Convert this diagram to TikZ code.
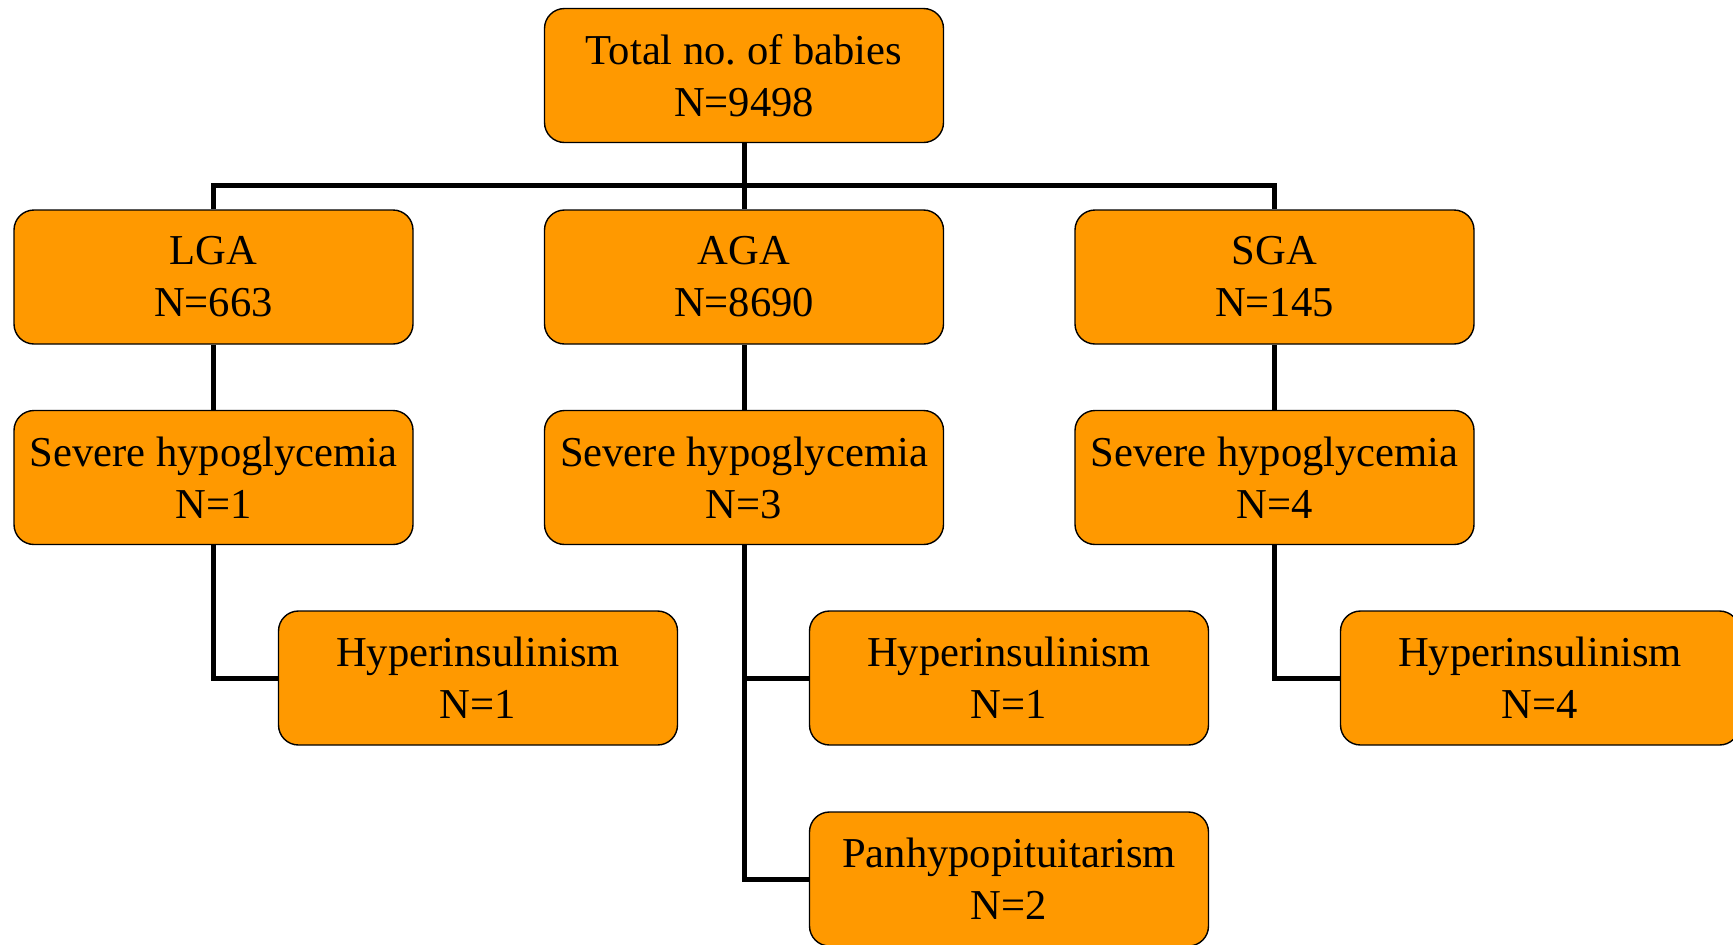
\documentclass[tikz,border=0pt]{standalone}
\usepackage{fontspec}
\setmainfont{Liberation Serif}
\definecolor{boxfill}{RGB}{255,153,0}
\begin{document}
\begin{tikzpicture}[x=0.5pt,y=-0.5pt,
  box/.style={draw=black,line width=0.7pt,fill=boxfill,rounded corners=10pt,
    minimum width=199.5pt,minimum height=67pt,inner sep=0pt,align=center,
    font=\fontsize{21.3pt}{26pt}\selectfont\frenchspacing},
  link/.style={line width=2.5pt,draw=black}]
\useasboundingbox (0,0) rectangle (1733,944);
\node[box] (total) at (744,75.5) {Total no. of babies\\N=9498};
\node[box] (lga) at (213.5,277) {LGA\\N=663};
\node[box] (aga) at (744,277) {AGA\\N=8690};
\node[box] (sga) at (1274.5,277) {SGA\\N=145};
\node[box] (sev1) at (213.5,477.5) {Severe hypoglycemia\\N=1};
\node[box] (sev2) at (744,477.5) {Severe hypoglycemia\\N=3};
\node[box] (sev3) at (1274.5,477.5) {Severe hypoglycemia\\N=4};
\node[box] (hyp1) at (478,678) {Hyperinsulinism\\N=1};
\node[box] (hyp2) at (1009,678) {Hyperinsulinism\\N=1};
\node[box] (hyp3) at (1540,678) {Hyperinsulinism\\N=4};
\node[box] (pan) at (1009,879) {Panhypopituitarism\\N=2};
\coordinate (bus) at (0,185);
\draw[link] (total.south) -- (aga.north);
\draw[link] (lga.north) -- (lga.north |- bus) -| (sga.north);
\draw[link] (lga.south) -- (sev1.north);
\draw[link] (aga.south) -- (sev2.north);
\draw[link] (sga.south) -- (sev3.north);
\draw[link] (sev1.south) |- (hyp1.west);
\draw[link] (sev3.south) |- (hyp3.west);
\draw[link] (sev2.south) |- (pan.west);
\draw[link] (sev2.south |- hyp2.west) -- (hyp2.west);
\end{tikzpicture}
\end{document}
